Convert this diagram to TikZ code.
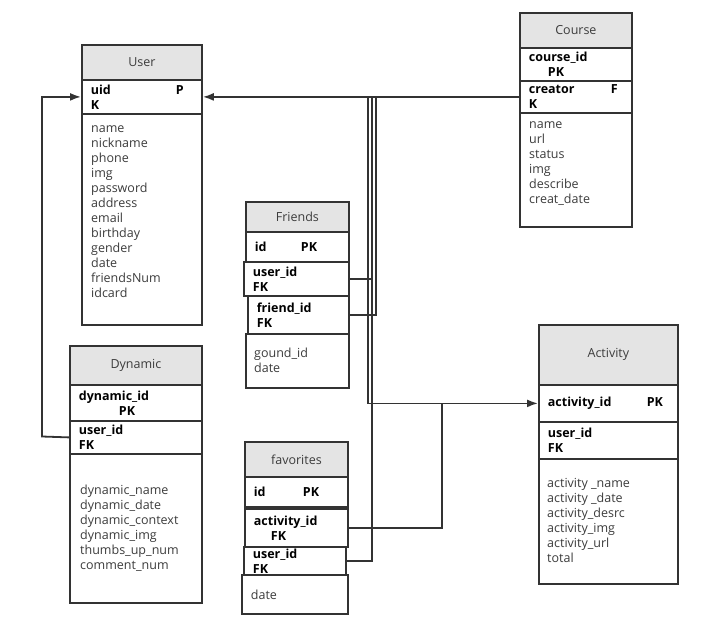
\documentclass[tikz,border=0pt]{standalone}
\usepackage{fontspec}
\setmainfont{Open Sans}
\usetikzlibrary{arrows.meta}
\definecolor{linegray}{HTML}{333333}
\definecolor{headgray}{HTML}{E4E4E4}
\definecolor{textgray}{HTML}{3C3C3C}

\begin{document}
\begin{tikzpicture}[x=1pt,y=-1pt,
  headstyle/.style={draw=linegray,line width=1.8pt,fill=headgray,anchor=north west,inner sep=0pt,text=textgray,font=\fontsize{12.5}{15}\selectfont},
  rowstyle/.style={draw=linegray,line width=1.8pt,fill=white,anchor=north west,align=left,inner xsep=9pt,inner ysep=0pt,text width=#1,font=\fontsize{12.5}{15}\selectfont\bfseries},
  bodystyle/.style={draw=linegray,line width=1.8pt,fill=white,anchor=north west,inner sep=0pt},
  attrstyle/.style={anchor=base west,inner sep=0pt,text=textgray,font=\fontsize{12.5}{15}\selectfont},
  linkstyle/.style={draw=linegray,line width=1.8pt},
  tipstyle/.style={-{Latex[length=11pt,width=8pt]}}]
 \useasboundingbox (0,0) rectangle (720,635);

 % User
 \node [headstyle,minimum width=120pt,minimum height=35pt] (user) at (81,44) {User};
 \node [rowstyle=102pt,minimum height=34pt] (user uid) at (81,79) {\makebox[85pt][l]{uid}P\\K};
 \node [bodystyle,minimum width=120pt,minimum height=211pt] (user body) at (81,113) {};
 \foreach \a [count=\i] in {name,nickname,phone,img,password,address,email,birthday,gender,date,friendsNum,idcard}
   \node [attrstyle] (user a\i) at (91,117+15*\i) {\a};

 % Course
 \node [headstyle,minimum width=112pt,minimum height=35pt] (course) at (519,12) {Course};
 \node [rowstyle=94pt,minimum height=33pt] (course id) at (519,47) {course\_id\\\hspace*{19pt}PK};
 \node [rowstyle=94pt,minimum height=32pt] (course creator) at (519,80) {\makebox[82pt][l]{creator}F\\K};
 \node [bodystyle,minimum width=112pt,minimum height=114pt] (course body) at (519,112) {};
 \foreach \a [count=\i] in {name,url,status,img,describe,creat\_date}
   \node [attrstyle] (course a\i) at (529,113+15*\i) {\a};

 % Friends
 \node [headstyle,minimum width=103pt,minimum height=30pt] (friends) at (245,201) {Friends};
 \node [rowstyle=85pt,minimum height=30pt] (friends id) at (245,231) {\makebox[46pt][l]{id}PK};
 \node [rowstyle=87pt,minimum height=34pt] (friends user) at (243,261) {user\_id\\FK};
 \node [rowstyle=83pt,minimum height=38pt] (friends friend) at (247,295) {friend\_id\\FK};
 \node [bodystyle,minimum width=103pt,minimum height=54pt] (friends body) at (245,333) {};
 \foreach \a [count=\i] in {gound\_id,date}
   \node [attrstyle] (friends a\i) at (254,342+15*\i) {\a};

 % Dynamic
 \node [headstyle,minimum width=132pt,minimum height=39pt] (dyn) at (69,345) {Dynamic};
 \node [rowstyle=114pt,minimum height=36pt] (dyn id) at (69,384) {dynamic\_id\\\hspace*{40pt}PK};
 \node [rowstyle=114pt,minimum height=33pt] (dyn user) at (69,420) {user\_id\\FK};
 \node [bodystyle,minimum width=132pt,minimum height=149pt] (dyn body) at (69,453) {};
 \foreach \a [count=\i] in {dynamic\_name,dynamic\_date,dynamic\_context,dynamic\_img,thumbs\_up\_num,comment\_num}
   \node [attrstyle] (dyn a\i) at (80,479+15*\i) {\a};

 % favorites
 \node [headstyle,minimum width=103pt,minimum height=35pt] (fav) at (244,441) {favorites};
 \node [rowstyle=85pt,minimum height=30pt] (fav id) at (244,476) {\makebox[49pt][l]{id}PK};
 \node [rowstyle=85pt,minimum height=38pt] (fav act) at (244,508) {activity\_id\\\hspace*{17pt}FK};
 \node [rowstyle=84pt,minimum height=28pt] (fav user) at (243,546) {user\_id\\FK};
 \node [rowstyle=88pt,minimum height=39pt,font=\fontsize{12.5}{15}\selectfont,text=textgray] (fav date) at (241,574) {date};

 % Activity
 \node [headstyle,minimum width=139pt,minimum height=60pt] (activity) at (538,324) {Activity};
 \node [rowstyle=121pt,minimum height=37pt] (activity id) at (538,384) {\makebox[99pt][l]{activity\_id}PK};
 \node [rowstyle=121pt,minimum height=37pt] (activity user) at (538,421) {user\_id\\FK};
 \node [bodystyle,minimum width=139pt,minimum height=125pt] (activity body) at (538,458) {};
 \foreach \a [count=\i] in {activity \_name,activity \_date,activity\_desrc,activity\_img,activity\_url,total}
   \node [attrstyle] (activity a\i) at (547,472.5+15*\i) {\a};

 % links
 \coordinate (busA) at (368,96);
 \coordinate (busB) at (372,96);
 \coordinate (busC) at (376,96);
 \coordinate (favjoin) at (442,402.5);
 \coordinate (dynbend) at (42,436.5);
 \draw [linkstyle,tipstyle] (course creator.west) -- (user uid.east);
 \draw [linkstyle,tipstyle] (busA) |- (activity id.west);
 \draw [linkstyle] (friends user.east) -| (busB);
 \draw [linkstyle] (friends friend.east) -| (busC);
 \draw [linkstyle] (fav user.east) -| (busB);
 \draw [linkstyle] (fav act.east) -| (favjoin);
 \draw [linkstyle,tipstyle] (dyn user.west) -- (dynbend) |- (user uid.west);
\end{tikzpicture}
\end{document}
